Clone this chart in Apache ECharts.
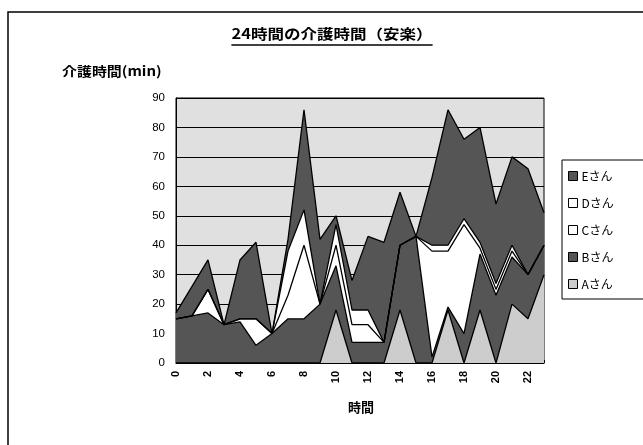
<!DOCTYPE html>
<html>
<head>
<meta charset="utf-8">
<script src="https://cdn.jsdelivr.net/npm/echarts@6/dist/echarts.min.js"></script>
<style>
html,body{margin:0;padding:0;background:#fff;}
#chart{width:643px;height:445px;}
</style>
</head>
<body>
<div id="chart"></div>
<script>
// Hour of day (category axis)
const hours = ['0','1','2','3','4','5','6','7','8','9','10','11','12','13','14','15','16','17','18','19','20','21','22','23'];

// Care minutes per hour for each person (stacked bottom to top: A, B, C, D, E)
const careA = [0, 0, 0, 0, 0, 0, 0, 0, 0, 0, 18, 0, 0, 0, 18, 0, 0, 18, 0, 18, 0, 20, 15, 30];
const careB = [15, 16, 17, 13, 14, 6, 10, 15, 15, 20, 15, 7, 7, 7, 22, 43, 2, 1, 10, 19, 23, 16, 15, 10];
const careC = [0, 0, 8, 0, 1, 9, 0, 8, 25, 0, 7, 6, 6, 0, 0, 0, 36, 19, 37, 2, 2, 2, 0, 0];
const careD = [0, 0, 0, 0, 0, 0, 0, 15, 12, 0, 7, 5, 5, 0, 0, 0, 2, 2, 2, 2, 2, 2, 0, 0];
const careE = [2, 10, 10, 0, 20, 26, 0, 4, 34, 22, 3, 10, 25, 34, 18, 0, 23, 46, 27, 39, 27, 30, 36, 11];

// Legend entries, top to bottom
const legendOrder = ['Eさん', 'Dさん', 'Cさん', 'Bさん', 'Aさん'];

const names = ['Aさん', 'Bさん', 'Cさん', 'Dさん', 'Eさん'];
const fills = ['#cdcdcd', '#555555', '#ffffff', '#ffffff', '#555555'];
const seriesData = [careA, careB, careC, careD, careE];

const yTicks = { min: 0, max: 90, interval: 10 };

const numFont = '"Liberation Sans", Arial, sans-serif';
const jpFont = '"Noto Sans CJK JP", "Noto Sans", sans-serif';

// measure text so the title underline follows the title width
function textWidth(text, font) {
  const ctx = document.createElement('canvas').getContext('2d');
  ctx.font = font;
  return ctx.measureText(text).width;
}

const titleText = '24時間の介護時間（安楽）';
const titleFont = 'bold 14px ' + jpFont;
const titleScale = 1.18;
const titleX = 332;
const titleW = textWidth(titleText, titleFont) * titleScale;

const chart = echarts.init(document.getElementById('chart'), null, { renderer: 'canvas' });

const series = seriesData.map((d, i) => ({
  name: names[i],
  type: 'line',
  stack: 'care',
  data: d,
  symbol: 'none',
  smooth: false,
  lineStyle: { color: '#000', width: 1.3 },
  areaStyle: { color: fills[i], opacity: 1 },
  itemStyle: { color: fills[i], borderColor: '#000', borderWidth: 1 },
  emphasis: { disabled: true },
  z: 2
}));

chart.setOption({
  animation: false,
  backgroundColor: '#ffffff',
  grid: {
    left: 176, top: 98, width: 368, height: 265,
    show: true, backgroundColor: '#e0e0e0', borderColor: '#000', borderWidth: 1
  },
  xAxis: {
    type: 'category',
    data: hours,
    boundaryGap: false,
    axisLine: { lineStyle: { color: '#000', width: 1 } },
    axisTick: { show: true, inside: true, length: 3, interval: 0, lineStyle: { color: '#000' } },
    axisLabel: { interval: 1, rotate: 90, color: '#000', fontSize: 11, fontWeight: 'bold', fontFamily: numFont, margin: 8 },
    splitLine: { show: false }
  },
  yAxis: {
    type: 'value',
    min: yTicks.min, max: yTicks.max, interval: yTicks.interval,
    axisLine: { show: true, lineStyle: { color: '#000', width: 1 } },
    axisTick: { show: false },
    axisLabel: { color: '#000', fontSize: 11.5, fontFamily: numFont, margin: 11 },
    splitLine: { show: true, lineStyle: { color: '#000', width: 1 } }
  },
  legend: {
    orient: 'vertical',
    left: 568, top: 170,
    padding: 0,
    itemGap: 15,
    itemWidth: 9, itemHeight: 9,
    icon: 'rect',
    textStyle: { color: '#000', fontSize: 12, fontFamily: jpFont, padding: [0, 0, 0, -1] },
    data: legendOrder.map(n => ({
      name: n,
      itemStyle: { color: fills[names.indexOf(n)], borderColor: '#000', borderWidth: 1 }
    }))
  },
  graphic: [
    // outer chart frame
    { type: 'rect', shape: { x: 8, y: 12, width: 720, height: 600 },
      style: { fill: 'none', stroke: '#000', lineWidth: 1.5 }, silent: true },
    // legend frame, running past the right edge
    { type: 'rect', shape: { x: 562, y: 160, width: 120, height: 139 },
      style: { fill: 'none', stroke: '#000', lineWidth: 1 }, silent: true, z: -1 },
    { type: 'text', x: titleX, y: 27, scaleX: titleScale,
      style: { text: titleText, font: titleFont, fill: '#000', textAlign: 'center' } },
    { type: 'line', shape: { x1: titleX - titleW / 2, y1: 45, x2: titleX + titleW / 2, y2: 45 },
      style: { stroke: '#000', lineWidth: 1.4 } },
    { type: 'text', x: 62, y: 65, scaleX: 1.15,
      style: { text: '介護時間(min)', font: 'bold 13px ' + jpFont, fill: '#000' } },
    { type: 'text', x: 361, y: 401,
      style: { text: '時間', font: 'bold 13px ' + jpFont, fill: '#000', textAlign: 'center' } }
  ],
  series: series
});
</script>
</body>
</html>
